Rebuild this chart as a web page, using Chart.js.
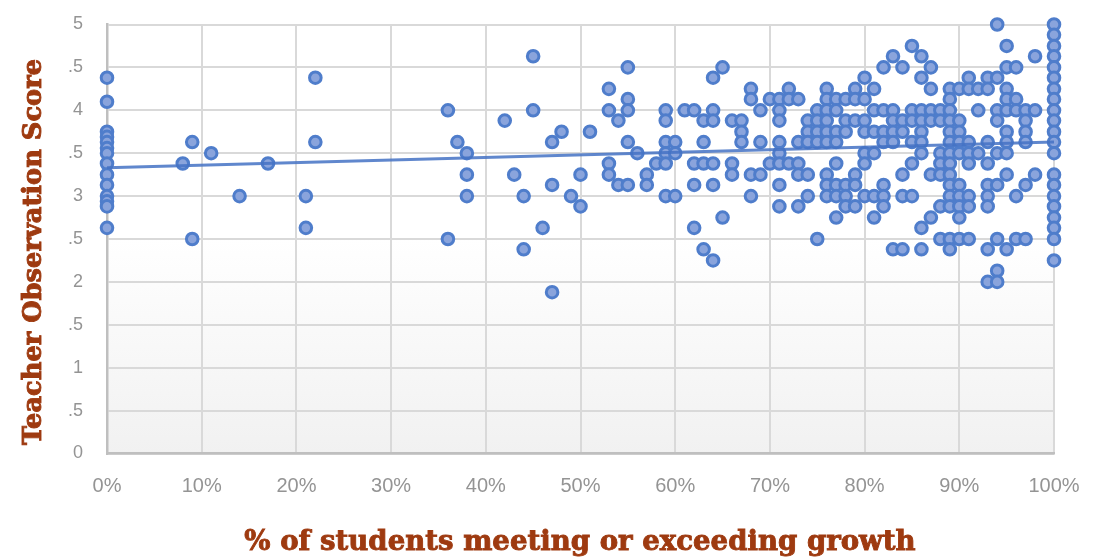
<!DOCTYPE html>
<html>
<head>
<meta charset="utf-8">
<script src="https://cdn.jsdelivr.net/npm/chart.js@4"></script>
<style>
  html, body { margin: 0; padding: 0; background: #fff; }
  #wrap { width: 1102px; height: 559px; }
</style>
</head>
<body>
<div id="wrap"><canvas id="chart"></canvas></div>
<script>
// x tick labels and y tick labels (the y labels are cut off in the source picture)
const xTickLabels = ['0%', '10%', '20%', '30%', '40%', '50%', '60%', '70%', '80%', '90%', '100%'];
const yTickLabels = ['0', '.5', '1', '.5', '2', '.5', '3', '.5', '4', '.5', '5'];

const xTitle = '% of students meeting or exceeding growth';
const yTitle = 'Teacher Observation Score';

// % of students, and the scores seen in that column
const growthPct = [
  0, 8, 9, 11, 14, 17, 21, 22, 36, 37, 38, 42, 43, 44, 45, 46, 47, 48, 49, 50,
  51, 53, 54, 55, 56, 57, 58, 59, 60, 61, 62, 63, 64, 65, 66, 67, 68, 69, 70,
  71, 72, 73, 74, 75, 76, 77, 78, 79, 80, 81, 82, 83, 84, 85, 86, 87, 88, 89,
  90, 91, 92, 93, 94, 95, 96, 97, 98, 100
];
const scoresByPct = [
  [4.38, 4.1, 3.75, 3.69, 3.63, 3.56, 3.5, 3.38, 3.25, 3.13, 3, 2.94, 2.88, 2.63],
  [3.38],
  [3.63, 2.5],
  [3.5],
  [3],
  [3.38],
  [3, 2.63],
  [4.38, 3.63],
  [4, 2.5],
  [3.63],
  [3.5, 3.25, 3],
  [3.88],
  [3.25],
  [3, 2.38],
  [4.63, 4],
  [2.63],
  [3.63, 3.13, 1.88],
  [3.75],
  [3],
  [3.25, 2.88],
  [3.75],
  [4.25, 4, 3.38, 3.25],
  [3.88, 3.13],
  [4.5, 4.13, 4, 3.63, 3.13],
  [3.5],
  [3.25, 3.13],
  [3.38],
  [4, 3.88, 3.63, 3.5, 3.38, 3],
  [3.63, 3.5, 3],
  [4],
  [4, 3.38, 3.13, 2.63],
  [3.88, 3.63, 3.38, 2.38],
  [4.38, 4, 3.88, 3.38, 3.13, 2.25],
  [4.5, 2.75],
  [3.88, 3.38, 3.25],
  [3.88, 3.75, 3.63],
  [4.25, 4.13, 3.25, 3],
  [4, 3.63, 3.25],
  [4.13, 3.38],
  [4.13, 4, 3.88, 3.63, 3.5, 3.38, 3.13, 2.88],
  [4.25, 4.13, 3.38],
  [4.13, 3.63, 3.38, 3.25, 2.88],
  [3.88, 3.75, 3.63, 3.25, 3],
  [4, 3.88, 3.75, 3.63, 2.5],
  [4.25, 4.13, 4, 3.88, 3.75, 3.63, 3.25, 3.13, 3],
  [4.13, 4, 3.75, 3.63, 3.38, 3.13, 3, 2.75],
  [4.13, 3.88, 3.75, 3.13, 3, 2.88],
  [4.25, 4.13, 3.88, 3.25, 3.13, 2.88],
  [4.38, 4.13, 3.88, 3.75, 3.5, 3.38, 3],
  [4.25, 4, 3.75, 3.5, 3, 2.75],
  [4.5, 4, 3.75, 3.63, 3.13, 3, 2.88],
  [4.63, 4, 3.88, 3.75, 3.63, 2.38],
  [4.5, 3.88, 3.75, 3.25, 3, 2.38],
  [4.75, 4, 3.88, 3.63, 3.38, 3],
  [4.63, 4.38, 4, 3.88, 3.75, 3.63, 3.5, 2.63, 2.38],
  [4.5, 4.25, 4, 3.88, 3.25, 2.75],
  [4, 3.88, 3.5, 3.38, 3.25, 2.88, 2.5],
  [4.25, 4.13, 4, 3.88, 3.75, 3.63, 3.5, 3.38, 3.25, 3.13, 3, 2.88, 2.5, 2.38],
  [4.25, 3.88, 3.75, 3.63, 3.5, 3.13, 3, 2.88, 2.75, 2.5],
  [4.38, 4.25, 3.63, 3.5, 3.38, 3, 2.88, 2.5],
  [4.25, 4, 3.5],
  [4.38, 4.25, 3.63, 3.38, 3.13, 3, 2.88, 2.38, 2],
  [5, 4.38, 4, 3.88, 3.5, 3.13, 2.5, 2.13, 2],
  [4.75, 4.5, 4.25, 4.13, 4, 3.75, 3.63, 3.5, 3.25, 2.38],
  [4.5, 4.13, 4, 3, 2.5],
  [4, 3.88, 3.75, 3.63, 3.13, 2.5],
  [4.63, 4, 3.25],
  [5, 4.88, 4.75, 4.63, 4.5, 4.38, 4.25, 4.13, 4, 3.88, 3.75, 3.63, 3.5,
   3.25, 3.13, 3, 2.88, 2.75, 2.63, 2.5, 2.25]
];

// linear trendline end points
const trendPct = [0, 100];
const trendScore = [3.33, 3.63];

const points = growthPct.flatMap((pct, i) => scoresByPct[i].map(score => ({ x: pct, y: score })));
const trendPoints = trendPct.map((pct, i) => ({ x: pct, y: trendScore[i] }));

const TITLE_COLOR = '#9e3a10';

// Plugin: plot area gradient, white fading to light grey in the lower half
const plotBackground = {
  id: 'plotBackground',
  beforeDraw(chart) {
    const { left, top, bottom, width, height } = chart.chartArea;
    const ctx = chart.ctx;
    const grad = ctx.createLinearGradient(0, top, 0, bottom);
    grad.addColorStop(0, '#ffffff');
    grad.addColorStop(0.5, '#ffffff');
    grad.addColorStop(1, '#f1f1f1');
    ctx.save();
    ctx.fillStyle = grad;
    ctx.fillRect(left, top, width, height);
    ctx.restore();
  }
};

// Plugin: axis titles, the y one sits lower than the centre of its axis
const axisTitles = {
  id: 'axisTitles',
  afterDraw(chart) {
    const ctx = chart.ctx;
    ctx.save();
    ctx.fillStyle = TITLE_COLOR;
    ctx.strokeStyle = TITLE_COLOR;
    ctx.lineWidth = 0.9;
    ctx.textAlign = 'center';
    ctx.textBaseline = 'middle';
    ctx.font = "bold 27.6px 'DejaVu Serif', serif";
    ctx.fillText(xTitle, 580, 543);
    ctx.strokeText(xTitle, 580, 543);
    ctx.font = "bold 25.7px 'DejaVu Serif', serif";
    ctx.translate(34, 252);
    ctx.rotate(-Math.PI / 2);
    ctx.fillText(yTitle, 0, 0);
    ctx.strokeText(yTitle, 0, 0);
    ctx.restore();
  }
};

new Chart(document.getElementById('chart'), {
  type: 'scatter',
  data: {
    datasets: [
      {
        label: 'Trendline',
        data: trendPoints,
        showLine: true,
        borderColor: 'rgba(68, 114, 196, 0.85)',
        borderWidth: 3,
        pointRadius: 0,
        order: 0,
      },
      {
        label: 'Teachers',
        data: points,
        backgroundColor: '#8aa4dc',
        borderColor: '#4f7dcb',
        borderWidth: 3,
        pointRadius: 5.8,
        clip: false,
        order: 1,
      },
    ]
  },
  options: {
    responsive: true,
    maintainAspectRatio: false,
    animation: false,
    devicePixelRatio: 1,
    layout: { padding: { top: 24.5, right: 48, left: 0, bottom: 0 } },
    scales: {
      x: {
        type: 'linear',
        min: 0,
        max: 100,
        afterFit(scale) { scale.height = 105.5; },
        ticks: {
          stepSize: 10,
          maxRotation: 0,
          padding: 21,
          color: '#949494',
          font: { family: "'Liberation Sans', sans-serif", size: 20 },
          callback: (value, index) => xTickLabels[index],
        },
        grid: { color: '#d9d9d9', lineWidth: 2, drawTicks: false },
        border: { color: '#bfbfbf', width: 2.5 },
      },
      y: {
        type: 'linear',
        min: 0,
        max: 5,
        // tick padding would otherwise also push the plot top down
        afterFit(scale) { scale.width = 107; scale.paddingTop = 0; scale.paddingBottom = 0; },
        ticks: {
          stepSize: 0.5,
          padding: 24,
          color: '#949494',
          font: { family: "'Liberation Sans', sans-serif", size: 18 },
          callback: (value, index) => yTickLabels[index],
        },
        grid: { color: '#d9d9d9', lineWidth: 2, drawTicks: false },
        border: { color: '#bfbfbf', width: 2.5 },
      }
    },
    plugins: {
      legend: { display: false },
      tooltip: { enabled: false },
    }
  },
  plugins: [plotBackground, axisTitles]
});
</script>
</body>
</html>
